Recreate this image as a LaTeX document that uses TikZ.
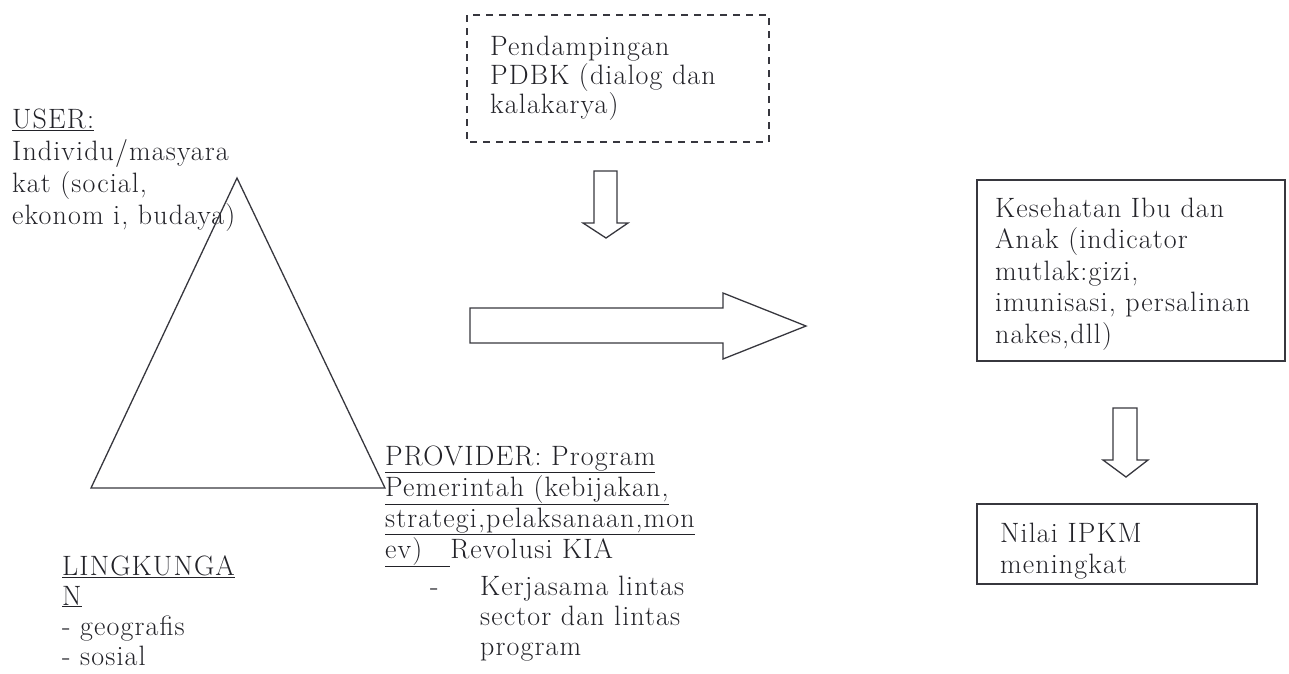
\documentclass[tikz,border=0pt]{standalone}
\usepackage{fontspec}
\setmainfont{Latin Modern Roman}[LetterSpace=4]
\definecolor{txtc}{RGB}{34,34,40}
\definecolor{linec}{RGB}{55,55,62}
\begin{document}
\begin{tikzpicture}[x=1pt,y=-1pt,
  lbl/.style={anchor=base west,inner sep=0pt,align=left,text=txtc,font=\fontsize{28}{32}\selectfont},
  frame/.style={draw=linec,line width=1.4pt},
  blockarrow/.style={draw=linec,line width=1.3pt,line join=miter}]
\useasboundingbox (0,0) rectangle (1289,673);

% USER (anchor = baseline of last line)
\node[lbl] (user) at (12,224) {\underline{USER:}\\Individu/masyara\\kat (social,\\ekonom i, budaya)};

% triangle
\coordinate (apex) at (237,178);
\coordinate (bl) at (91,488);
\coordinate (br) at (385,488);
\draw[draw=linec,line width=1.3pt] (apex) -- (bl) -- (br) -- cycle;

% LINGKUNGAN
\node[lbl,font=\fontsize{28}{30}\selectfont] (lingk) at (62,665) {\underline{LINGKUNGA}\\\underline{N}\\- geografis\\- sosial};

% PROVIDER
\node[lbl,font=\fontsize{28}{31}\selectfont] (prov) at (385,558) {\underline{PROVIDER: Program}\\\underline{Pemerintah (kebijakan,}\\\underline{strategi,pelaksanaan,mon}\\\underline{ev)\hspace{28pt}}Revolusi KIA};
\node[lbl] (dash1) at (430,595) {-};
\node[lbl,font=\fontsize{28}{30}\selectfont] (kerja) at (480,655) {Kerjasama lintas\\sector dan lintas\\program};

% dashed box
\draw[draw=linec,line width=1.4pt,dash pattern=on 7pt off 6pt] (467,15) rectangle (769,142);
\node[lbl,font=\fontsize{28}{29}\selectfont] (pdbk) at (490,113) {Pendampingan\\PDBK (dialog dan\\kalakarya)};

% small down arrow
\draw[blockarrow] (594,171) -- (594,223) -- (583,223) -- (606,238) -- (628,223) -- (617,223) -- (617,171) -- cycle;

% big right arrow
\draw[blockarrow] (470,308) -- (723,308) -- (723,293) -- (806,326) -- (723,359) -- (723,343) -- (470,343) -- cycle;

% Kesehatan box
\draw[frame] (977,180) rectangle (1285,361);
\node[lbl,font=\fontsize{28}{31.5}\selectfont] (kia) at (995,343) {Kesehatan Ibu dan\\Anak (indicator\\mutlak:gizi,\\imunisasi, persalinan\\nakes,dll)};

% right down arrow
\draw[blockarrow] (1113,408) -- (1113,460) -- (1103,460) -- (1126,477) -- (1148,460) -- (1137,460) -- (1137,408) -- cycle;

% Nilai box
\draw[frame] (977,504) rectangle (1257,584);
\node[lbl,font=\fontsize{28}{31}\selectfont] (ipkm) at (1000,573) {Nilai IPKM\\meningkat};
\end{tikzpicture}
\end{document}
